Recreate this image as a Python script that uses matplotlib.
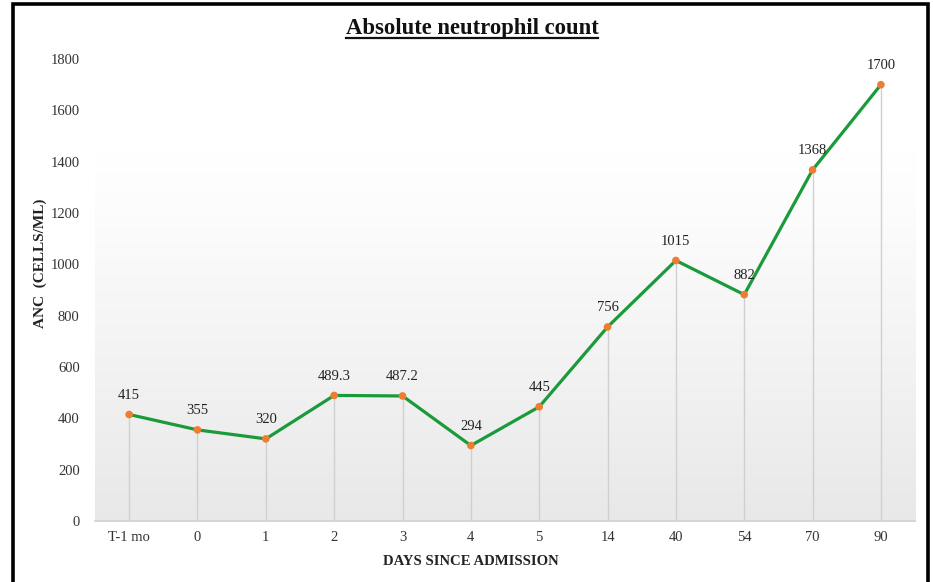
import numpy as np
import matplotlib.pyplot as plt
from matplotlib.patches import Rectangle
from matplotlib.lines import Line2D

days = ["T-1 mo", "0", "1", "2", "3", "4", "5", "14", "40", "54", "70", "90"]
anc = [415, 355, 320, 489.3, 487.2, 294, 445, 756, 1015, 882, 1368, 1700]
point_labels = ["415", "355", "320", "489.3", "487.2", "294", "445", "756", "1015", "882", "1368", "1700"]
yticks = [0, 200, 400, 600, 800, 1000, 1200, 1400, 1600, 1800]

plt.rcParams['font.family'] = ['Liberation Serif', 'DejaVu Serif']

fig = plt.figure(figsize=(9.33, 5.82), dpi=100)
ax = fig.add_axes([0.1018, 0.1048, 0.879, 0.7938])

x = np.arange(len(days))
ax.set_xlim(-0.5, len(days) - 0.5)
ax.set_ylim(0, 1800)

# gradient background of the plot area
grad = np.linspace(0, 1, 256).reshape(-1, 1)
shade = 1 - 0.09 * np.clip((grad - 0.2) / 0.8, 0, 1) ** 1.1
ax.imshow(np.dstack([shade, shade, shade]), extent=[-0.5, len(days) - 0.5, 0, 1800],
          origin='upper', aspect='auto', zorder=0, interpolation='bilinear')

# drop lines
ax.vlines(x, 0, anc, color='#d0d0d0', lw=1, zorder=1)
ax.plot(x, anc, color='#1a9a3a', lw=2.3, zorder=2)
ax.scatter(x, anc, s=30, color='#ed7d31', zorder=3, edgecolors='none')

for xi, v, lab in zip(x, anc, point_labels):
    ax.annotate(lab, (xi, v), xytext=(0, 9), textcoords='offset points',
                ha='center', va='bottom', fontsize=10.5, color='#222222')

ax.set_xticks(x)
ax.set_xticklabels(days, fontsize=10.5, color='#333333')
ax.set_yticks(yticks)
ax.set_yticklabels([str(t) for t in yticks], fontsize=10.5, color='#333333')
ax.tick_params(axis='x', length=0, pad=7)
ax.tick_params(axis='y', length=0, pad=11)

for s in ['top', 'right', 'left']:
    ax.spines[s].set_visible(False)
ax.spines['bottom'].set_color('#d0d0d0')
ax.spines['bottom'].set_linewidth(1.2)

ax.set_xlabel("DAYS SINCE ADMISSION", fontsize=10.6, fontweight='bold', color='#222222')
ax.set_ylabel("ANC  (CELLS/ML)", fontsize=11, fontweight='bold', color='#222222')
ax.xaxis.set_label_coords(0.4585, -0.0736)
ax.yaxis.set_label_coords(-0.0585, 0.558)

# title with underline
t = fig.text(0.506, 0.951, "Absolute neutrophil count", ha='center', va='center',
             fontsize=16.3, fontweight='bold', color='#111111')
fig.canvas.draw()
bb = t.get_window_extent().transformed(fig.transFigure.inverted())
fig.add_artist(Line2D([bb.x0, bb.x1], [bb.y0 + 0.002, bb.y0 + 0.002], color='#111111',
                      lw=1.6, transform=fig.transFigure))

# figure border
fig.add_artist(Rectangle((13 / 933, -0.02), 915 / 933, 1.02 - 3.5 / 582, fill=False,
                         edgecolor='black', lw=2.6, transform=fig.transFigure))

fig.savefig("out.png", dpi=100)
